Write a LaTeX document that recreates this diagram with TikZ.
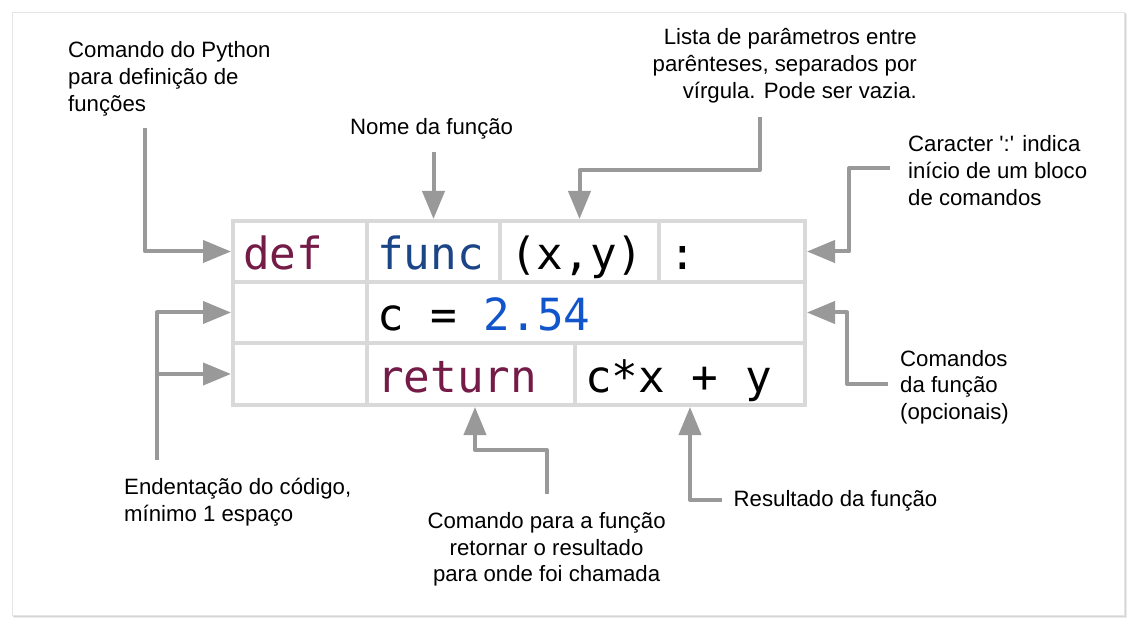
\documentclass[tikz,border=0pt]{standalone}
\usepackage{fontspec}
\setmainfont{Liberation Sans}
\newfontfamily\codefont{DejaVu Sans Mono}
\usetikzlibrary{arrows.meta}
\definecolor{cellgray}{HTML}{D9D9D9}
\definecolor{arrgray}{HTML}{999999}
\definecolor{kwred}{HTML}{741B47}
\definecolor{fnblue}{HTML}{1C4587}
\definecolor{numblue}{HTML}{1155CC}
\newcommand{\msp}{\hphantom{x}}
\begin{document}
\begin{tikzpicture}[x=1pt,y=-1pt,
  cell/.style={draw=cellgray, line width=4pt, rectangle, inner xsep=10pt, inner ysep=0pt,
    text height=38.5pt, text depth=2pt, align=left,
    font=\codefont\fontsize{44.3}{44}\selectfont},
  lbl/.style={inner sep=0pt, font=\fontsize{22.2}{26.8}\selectfont},
  arr/.style={draw=arrgray, line width=4pt, line join=round,
    -{Triangle[length=28pt,width=22pt]}}]
\useasboundingbox (0,0) rectangle (1138,628);
% slide
\fill[white] (0,0) rectangle (1138,628);
\fill[black!8] (14,14) rectangle (1127,618);
\fill[black!16] (13,13) rectangle (1125.5,616.5);
\filldraw[fill=white, draw=black!10, line width=0.8pt] (12,12) rectangle (1124,615);
% cells
\node[cell, text width=114pt, minimum height=61pt] (def)   at (300,251.5) {\textcolor{kwred}{def}};
\node[cell, text width=113pt, minimum height=61pt] (fn)    at (433.5,251.5) {\textcolor{fnblue}{func}};
\node[cell, text width=139pt, minimum height=61pt] (args)  at (579.5,251.5) {(x,y)};
\node[cell, text width=126pt, minimum height=61pt] (colon) at (732,251.5) {:};
\node[cell, text width=114pt, minimum height=61pt] (ind1)  at (300,312.5) {};
\node[cell, text width=418pt, minimum height=61pt] (body)  at (586,312.5) {c\msp=\msp\textcolor{numblue}{2.54}};
\node[cell, text width=114pt, minimum height=62pt] (ind2)  at (300,374) {};
\node[cell, text width=188pt, minimum height=62pt] (ret)   at (471,374) {\textcolor{kwred}{return}};
\node[cell, text width=210pt, minimum height=62pt] (expr)  at (690,374) {c*x\msp+\msp{}y};
% labels (base anchor = baseline of the last line)
\node[lbl, anchor=base west, align=left] (lpy) at (68,111.6) {Comando do Python\\para definição de\\funções};
\node[lbl, anchor=base west] (lnome) at (350,135) {Nome da função};
\node[lbl, anchor=base east, align=right] (llista) at (917,98.6) {Lista de parâmetros entre\\parênteses, separados por\\vírgula. Pode ser vazia.};
\node[lbl, anchor=base west, align=left] (lcar) at (908,205.2) {Caracter \textquotesingle:\textquotesingle{} indica\\início de um bloco\\de comandos};
\node[lbl, anchor=base west, align=left] (lcmd) at (900,419.6) {Comandos\\da função\\(opcionais)};
\node[lbl, anchor=base west] (lres) at (733.5,506.5) {Resultado da função};
\node[lbl, anchor=base, align=center] (lret) at (546.6,581.9) {Comando para a função\\retornar o resultado\\para onde foi chamada};
\node[lbl, anchor=base west, align=left] (lind) at (124,521) {Endentação do código,\\mínimo 1 espaço};
% connector start points
\coordinate (a1) at (145,128);
\coordinate (b1) at (433.5,152);
\coordinate (c1) at (760,117);
\coordinate (c2) at (760,170);
\coordinate (d1) at (890,168);
\coordinate (d2) at (849,168);
\coordinate (e1) at (888,384);
\coordinate (e2) at (847,384);
\coordinate (f1) at (722,500);
\coordinate (g1) at (547,494);
\coordinate (g2) at (475,450);
\coordinate (h1) at (157,460);
% connectors
\draw[arr] (a1) |- (def.west);
\draw[arr] (b1) -- (fn.north);
\draw[arr] (c1) -- (c2) -| (args.north);
\draw[arr] (d1) -- (d2) |- (colon.east);
\draw[arr] (e1) -- (e2) |- (body.east);
\draw[arr] (f1) -| (expr.south);
\draw[arr] (g1) |- (g2) -- (g2 |- ret.south);
\draw[arr] (h1) |- (ind1.west);
\draw[arr] (h1 |- ind2.west) -- (ind2.west);
\end{tikzpicture}
\end{document}
